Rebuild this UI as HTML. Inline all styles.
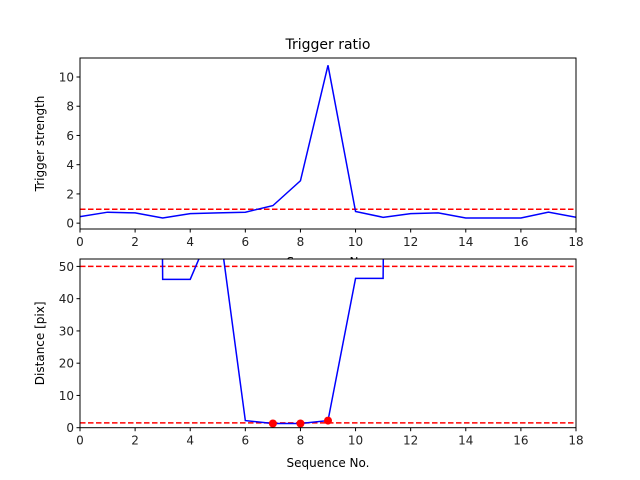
<!DOCTYPE html>
<html><head><meta charset="utf-8"><style>
html,body{margin:0;padding:0;background:#fff;}
svg{display:block;font-family:"DejaVu Sans","Liberation Sans",sans-serif;}
</style></head><body>
<svg id="fig" width="640" height="480" viewBox="0 0 640 480"></svg>
<script>
const seq = [0,1,2,3,4,5,6,7,8,9,10,11,12,13,14,15,16,17,18];
const trigger = [0.45,0.75,0.7,0.35,0.65,0.7,0.75,1.2,2.9,10.8,0.8,0.4,0.65,0.7,0.35,0.35,0.35,0.75,0.4];
const triggerThreshold = 0.95;
const distance = [1000,1000,1000,46,46,66,2.2,1.3,1.3,2.2,46.3,46.3,1000,1000,1000,1000,1000,1000,1000];
const markedIdx = [7,8,9];
const distThresholds = [50,1.5];
const xTicks = [0,2,4,6,8,10,12,14,16,18];
const yTicksTop = [0,2,4,6,8,10];
const yTicksBot = [0,10,20,30,40,50];

const NS="http://www.w3.org/2000/svg";
const svg=document.getElementById('fig');
function mk(tag,attrs,parent){const e=document.createElementNS(NS,tag);for(const k in attrs)e.setAttribute(k,attrs[k]);(parent||svg).appendChild(e);return e;}
const L=80,R=576;
const xs=v=>L+(v-0)/(18-0)*(R-L);

function axes(top,bot,ymin,ymax,name){
  const ys=v=>bot-(v-ymin)/(ymax-ymin)*(bot-top);
  const r=mk('rect',{x:L,y:top,width:R-L,height:bot-top,fill:'#fff'});
  
  
  const cp=mk('clipPath',{id:'clip-'+name});
  mk('rect',{x:L,y:top,width:R-L,height:bot-top},cp);
  return ys;
}
function frame(top,bot,ys,yt,name){
  const f=mk('rect',{x:L,y:top,width:R-L,height:bot-top,fill:'none',stroke:'#000','stroke-width':1});
  
  
  xTicks.forEach(t=>{
    mk('line',{x1:xs(t),x2:xs(t),y1:bot,y2:bot+3.5,stroke:'#000'});
    const tx=mk('text',{x:xs(t),y:bot+17,'font-size':12,'text-anchor':'middle',fill:'#222'});
    tx.textContent=t;
    
    
  });
  yt.forEach(t=>{
    mk('line',{x1:L-3.5,x2:L,y1:ys(t),y2:ys(t),stroke:'#000'});
    const tx=mk('text',{x:L-6,y:ys(t)+4.5,'font-size':12,'text-anchor':'end',fill:'#222'});
    tx.textContent=t;
    
    
  });
}
function linePath(vals,xsF,ysF){return vals.map((v,i)=>(i?'L':'M')+xsF(seq[i]).toFixed(2)+','+ysF(v).toFixed(2)).join(' ');}

// Top axes
const tTop=58,tBot=229;
const ysT=axes(tTop,tBot,-0.4,11.3,'top');
const g1=mk('g',{'clip-path':'url(#clip-top)'});
const thr=mk('line',{x1:L,x2:R,y1:ysT(triggerThreshold),y2:ysT(triggerThreshold),stroke:'#ff0000','stroke-width':1.5,'stroke-dasharray':'5.5,2.5'},g1);


const tl=mk('path',{d:linePath(trigger,xs,ysT),fill:'none',stroke:'#0000ff','stroke-width':1.5},g1);


frame(tTop,tBot,ysT,yTicksTop,'top');
const title=mk('text',{x:(L+R)/2,y:49,'font-size':14,'text-anchor':'middle',fill:'#000'});
title.textContent='Trigger ratio';


const yl1=mk('text',{x:0,y:0,'font-size':12,'text-anchor':'middle',transform:'translate(44,'+((tTop+tBot)/2)+') rotate(-90)'});
yl1.textContent='Trigger strength';


const xl1=mk('text',{x:(L+R)/2,y:266,'font-size':12,'text-anchor':'middle'});
xl1.textContent='Sequence No.';



// Bottom axes
const bTop=259,bBot=427.7;
const ysB=axes(bTop,bBot,0,52.3,'bottom');
const g2=mk('g',{'clip-path':'url(#clip-bottom)'});
distThresholds.forEach(t=>{
  const l=mk('line',{x1:L,x2:R,y1:ysB(t),y2:ysB(t),stroke:'#ff0000','stroke-width':1.5,'stroke-dasharray':'5.5,2.5'},g2);
  
  
});
const dl=mk('path',{d:linePath(distance,xs,ysB),fill:'none',stroke:'#0000ff','stroke-width':1.5},g2);


markedIdx.forEach(i=>{
  const c=mk('circle',{cx:xs(seq[i]),cy:ysB(distance[i]),r:4,fill:'#ff0000'});
  
  
});
frame(bTop,bBot,ysB,yTicksBot,'bottom');
const yl2=mk('text',{x:0,y:0,'font-size':12,'text-anchor':'middle',transform:'translate(44,'+((bTop+bBot)/2)+') rotate(-90)'});
yl2.textContent='Distance [pix]';


const xl2=mk('text',{x:(L+R)/2,y:467,'font-size':12,'text-anchor':'middle'});
xl2.textContent='Sequence No.';


</script>
</body></html>
